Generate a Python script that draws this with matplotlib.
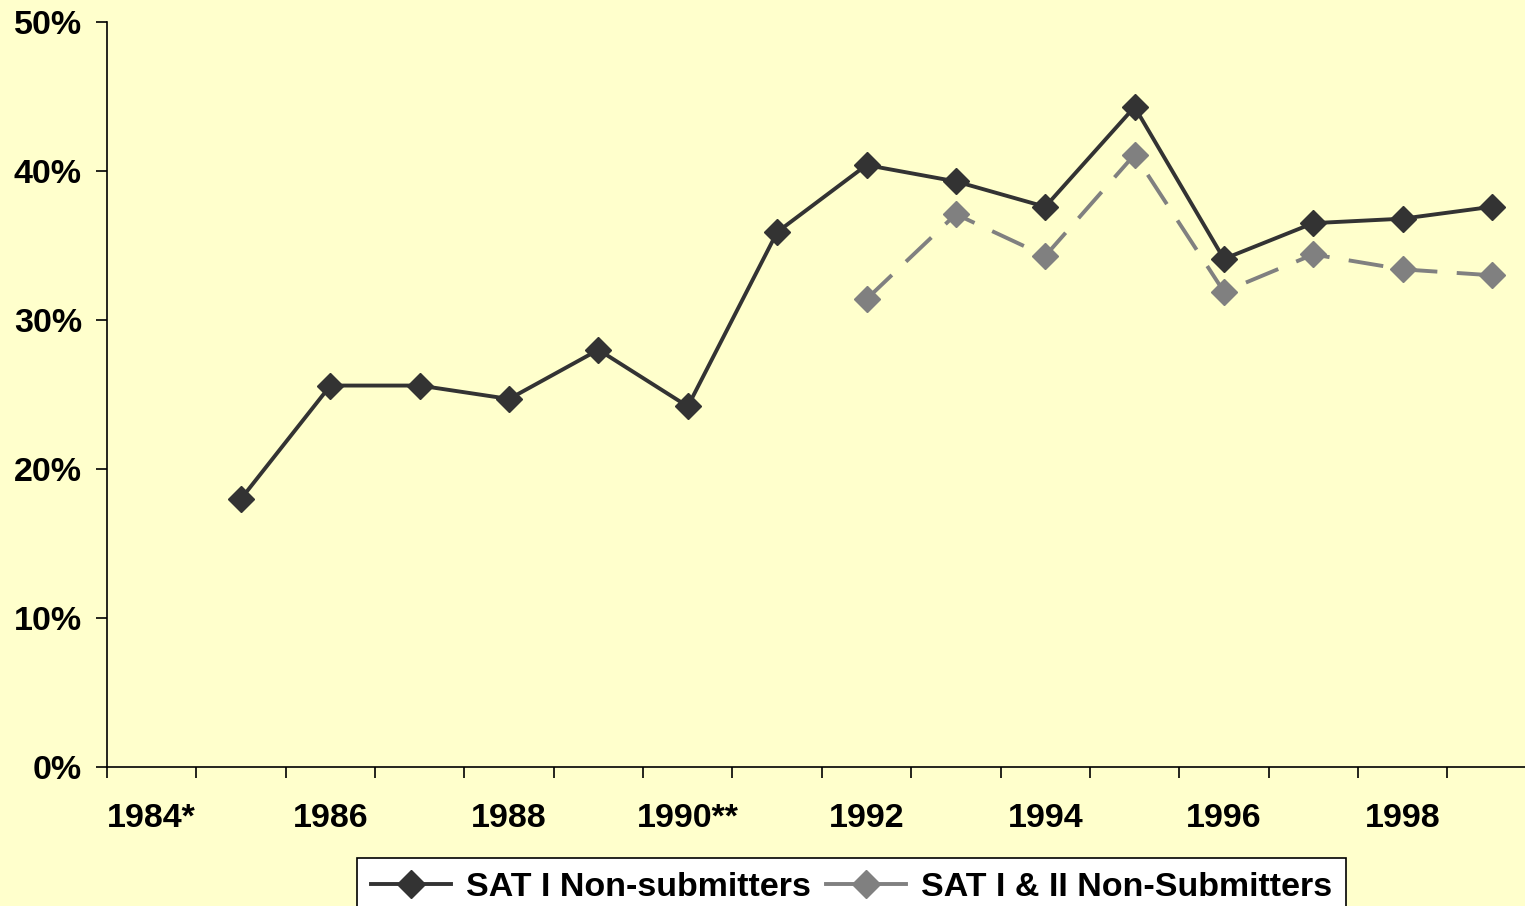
import numpy as np
import matplotlib
matplotlib.use("Agg")
import matplotlib.pyplot as plt

# categorias del eje x (una por año)
anios = ["1984*", "1985", "1986", "1987", "1988", "1989", "1990**", "1991",
         "1992", "1993", "1994", "1995", "1996", "1997", "1998", "1999"]
# porcentajes (None = sin dato)
sat1 = [None, 18.0, 25.6, 25.6, 24.7, 28.0, 24.2, 35.9,
        40.4, 39.3, 37.6, 44.3, 34.1, 36.5, 36.8, 37.6]
sat1_2 = [None, None, None, None, None, None, None, None,
          31.4, 37.1, 34.3, 41.1, 31.9, 34.4, 33.4, 33.0]
yticks = [0, 10, 20, 30, 40, 50]

fondo = "#FFFFCC"
plt.rcParams["font.family"] = ["Liberation Sans", "DejaVu Sans"]
plt.rcParams["font.weight"] = "bold"

fig = plt.figure(figsize=(15.25, 9.06), dpi=100, facecolor=fondo)
ax = fig.add_axes([107 / 1525, 139 / 906, 1427 / 1525 * 16 / 15.97, 745 / 906])
ax.set_facecolor(fondo)

x = np.arange(len(anios))
y1 = np.array([np.nan if v is None else v for v in sat1], dtype=float)
y2 = np.array([np.nan if v is None else v for v in sat1_2], dtype=float)

ax.plot(x, y1, color="#333333", lw=2.8, marker="D", ms=13,
        label="SAT I Non-submitters", zorder=3)
ax.plot(x, y2, color="#808080", lw=2.8, marker="D", ms=13, dashes=(9, 5),
        label="SAT I & II Non-Submitters", zorder=2)

ax.set_xlim(-0.5, len(anios) - 0.5)
ax.set_ylim(0, 50)

# marcas mayores en los limites de categoria, etiquetas en el centro
ax.set_xticks(np.arange(-0.5, len(anios), 1.0))
ax.set_xticklabels([])
ax.set_xticks(x, minor=True)
ax.set_xticklabels([a if i % 2 == 0 else "" for i, a in enumerate(anios)], minor=True)
ax.tick_params(axis="x", which="major", direction="out", length=8, width=1.2)
ax.tick_params(axis="x", which="minor", length=0, pad=26, labelsize=24.5)

ax.set_yticks(yticks)
ax.set_yticklabels([f"{v}%" for v in yticks])
ax.tick_params(axis="y", direction="out", length=8, width=1.2, pad=10, labelsize=24.5)

for lado in ["top", "right"]:
    ax.spines[lado].set_visible(False)
for lado in ["left", "bottom"]:
    ax.spines[lado].set_linewidth(1.2)

leg = fig.legend(loc="upper left", bbox_to_anchor=(357 / 1525, 1 - 858 / 906),
                 ncol=2, frameon=True, fancybox=False, edgecolor="black",
                 facecolor="white", framealpha=1, fontsize=24.5,
                 borderaxespad=0, handlelength=2.35, columnspacing=0.45,
                 handletextpad=0.45, borderpad=0.4, markerscale=1.1)
leg.get_frame().set_linewidth(1.2)
leg.get_lines()[1].set_linestyle("-")

fig.savefig("out.png", dpi=100, facecolor=fondo)
